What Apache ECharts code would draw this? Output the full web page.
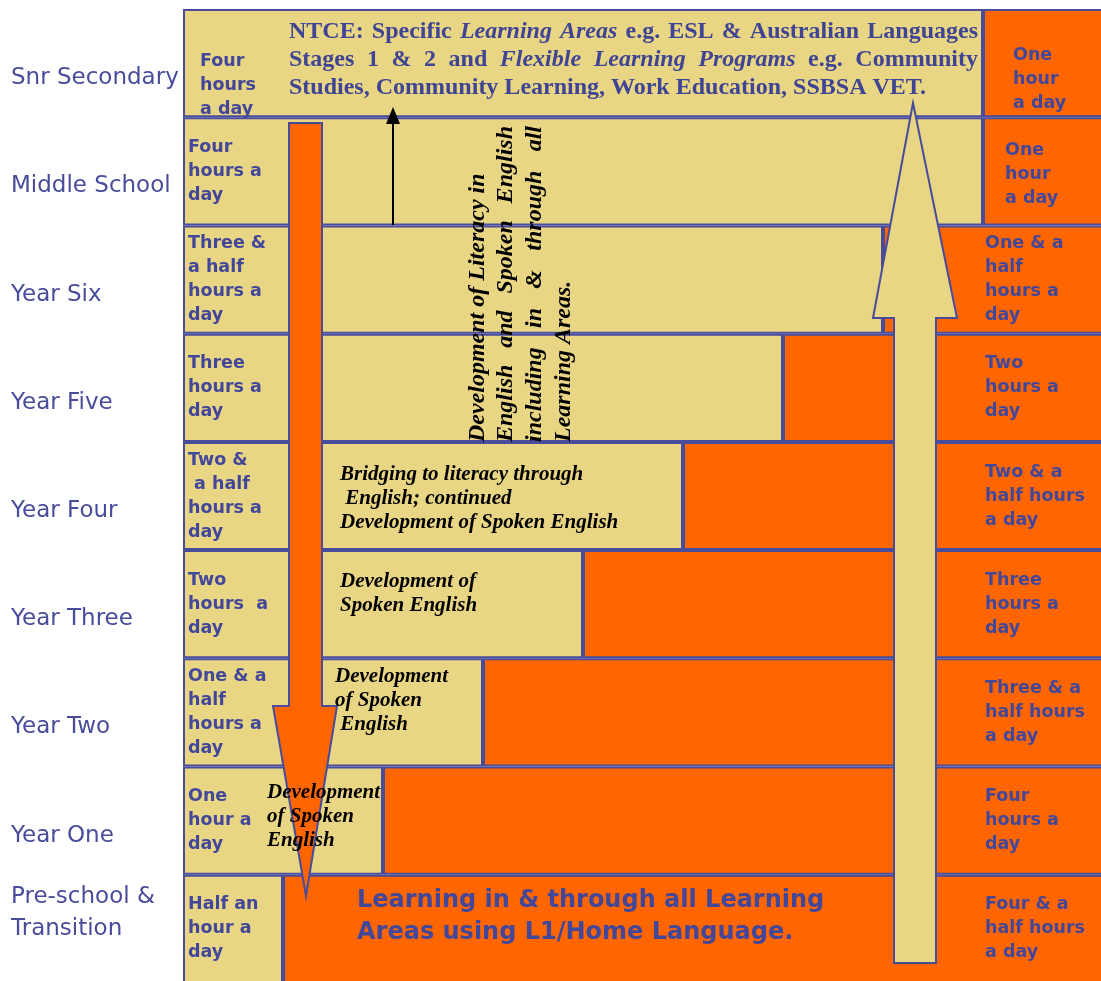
<!DOCTYPE html>
<html>
<head>
<meta charset="utf-8">
<script src="https://cdn.jsdelivr.net/npm/echarts@6/dist/echarts.min.js"></script>
<style>
html,body{margin:0;padding:0;background:#fff;overflow:hidden;width:1101px;height:981px;}
#main{width:1183px;height:983px;}
</style>
</head>
<body>
<div id="main"></div>
<script>
// ---------- data ----------
const categories = ['Snr Secondary','Middle School','Year Six','Year Five','Year Four','Year Three','Year Two','Year One','Pre-school &\nTransition'];
const englishHours = [4, 4, 3.5, 3, 2.5, 2, 1.5, 1, 0.5];
const l1Hours = [1, 1, 1.5, 2, 2.5, 3, 3.5, 4, 4.5];
const englishLabels = ['Four\nhours\na day','Four\nhours a\nday','Three &\na half\nhours a\nday','Three\nhours a\nday','Two &\n a half\nhours a\nday','Two\nhours  a\nday','One & a\nhalf\nhours a\nday','One\nhour a\nday','Half an\nhour a\nday'];
const l1Labels = ['One\nhour\na day','One\nhour\na day','One & a\nhalf\nhours a\nday','Two\nhours a\nday','Two & a\nhalf hours\na day','Three\nhours a\nday','Three & a\nhalf hours\na day','Four\nhours a\nday','Four & a\nhalf hours\na day'];
const ntceLine1 = [['NTCE:',0],['Specific',0],['Learning',1],['Areas',1],['e.g.',0],['ESL',0],['&',0],['Australian',0],['Languages',0]];
const ntceLine2 = [['Stages',0],['1',0],['&',0],['2',0],['and',0],['Flexible',1],['Learning',1],['Programs',1],['e.g.',0],['Community',0]];
const ntceLine3 = 'Studies, Community Learning, Work Education, SSBSA VET.';
const literacyLines = ['Development of Literacy in','English and Spoken English','including in & through all','Learning Areas.'];
const rowNotes = [
  {row: 4, text: 'Bridging to literacy through\n English; continued\nDevelopment of Spoken English'},
  {row: 5, text: 'Development of\nSpoken English'},
  {row: 6, text: 'Development\nof Spoken\n English'},
  {row: 7, text: 'Development\nof Spoken\nEnglish'}
];
const homeLanguageText = 'Learning in & through all Learning\nAreas using L1/Home Language.';

// ---------- style ----------
const TAN = '#E9D684', ORANGE = '#FF6600', BLUE = '#484C9A', TXT = '#43479A';
const GRID_TOP = 9, GRID_LEFT = 183, BAND = (983 - 9) / 9;
const SERIF = '"Liberation Serif"';
function bandCenter(i){ return GRID_TOP + BAND*i + BAND/2; }

const ctx = document.createElement('canvas').getContext('2d');
function measure(t, italic, size){ ctx.font = (italic ? 'italic ' : '') + 'bold ' + size + 'px ' + SERIF; return ctx.measureText(t).width; }

const graphics = [];
// orange downward arrow
graphics.push({type:'polygon', z:10, shape:{points:[[289,123],[322,123],[322,706],[337,706],[306,896],[273,706],[289,706]]}, style:{fill:ORANGE, stroke:BLUE, lineWidth:2}});
// tan upward arrow
graphics.push({type:'polygon', z:10, shape:{points:[[894,963],[894,318],[873,318],[913,103],[957,318],[936,318],[936,963]]}, style:{fill:TAN, stroke:BLUE, lineWidth:2}});
// small black arrow
graphics.push({type:'line', z:10, shape:{x1:393,y1:225,x2:393,y2:120}, style:{stroke:'#000', lineWidth:2}});
graphics.push({type:'polygon', z:10, shape:{points:[[393,107],[386,124],[400,124]]}, style:{fill:'#000'}});

function txt(x, y, text, opt, extra){
  const style = Object.assign({text:text, align:'left', verticalAlign:'middle', textAlign:'left', textVerticalAlign:'middle'}, opt);
  return Object.assign({type:'text', z:20, x:x, y:y, style:style}, extra||{});
}
function serif(italic, size, fill){ return {fontFamily:SERIF, fontWeight:'bold', fontStyle: italic ? 'italic' : 'normal', fontSize:size, fill:fill}; }

// justified horizontal line
function justifyH(words, x0, x1, y, fill){
  const ws = words.map(w => measure(w[0], w[1], 24));
  const sum = ws.reduce((a,b)=>a+b,0);
  const gap = (x1-x0-sum)/(words.length-1);
  let x = x0;
  words.forEach((w,i) => { graphics.push(txt(x, y, w[0], serif(w[1], 24, fill))); x += ws[i] + gap; });
}
const NTCE_C = '#3F4494';
justifyH(ntceLine1, 289, 978, 32, NTCE_C);
justifyH(ntceLine2, 289, 978, 60, NTCE_C);
graphics.push(txt(289, 88, ntceLine3, serif(false, 24, NTCE_C)));

// vertical literacy text (rotated, reading bottom-to-top)
const vx = [478, 506, 535, 564], vBottom = 442, vTop = 126;
literacyLines.forEach((line, k) => {
  const words = line.split(' ');
  if (k === 1 || k === 2) {
    const ws = words.map(w => measure(w, true, 24));
    const sum = ws.reduce((a,b)=>a+b,0);
    const gap = (vBottom - vTop - sum)/(words.length-1);
    let off = 0;
    words.forEach((w,i) => { graphics.push(txt(vx[k], vBottom - off, w, serif(true, 24, '#000'), {rotation: Math.PI/2})); off += ws[i] + gap; });
  } else {
    graphics.push(txt(vx[k], vBottom, line, serif(true, 24, '#000'), {rotation: Math.PI/2}));
  }
});

// row notes
const noteX = {4:340, 5:340, 6:335, 7:267};
const noteDy = {4:3, 5:-11, 6:-12, 7:-4};
rowNotes.forEach(n => {
  const o = serif(true, 21, '#000'); o.lineHeight = 24;
  graphics.push(txt(noteX[n.row], bandCenter(n.row) + noteDy[n.row], n.text, o));
});
// home language text
graphics.push(txt(357, bandCenter(8) - 12, homeLanguageText, {fontFamily:'DejaVu Sans', fontWeight:'bold', fontSize:24, fill:TXT, lineHeight:32}));

const englishData = englishHours.map((v,i) => i === 0 ? {value:v, label:{offset:[12,22]}} : v);
const l1Data = l1Hours.map((v,i) => i === 0 ? {value:v, label:{offset:[-165,16]}} : (i === 1 ? {value:v, label:{offset:[-173,3]}} : v));

const chart = echarts.init(document.getElementById('main'), null, {renderer:'canvas'});
chart.setOption({
  animation: false,
  backgroundColor: '#fff',
  grid: {left: GRID_LEFT, right: 0, top: GRID_TOP, bottom: 0, containLabel: false},
  xAxis: {type:'value', min:0, max:5, show:false},
  yAxis: {
    type:'category', data: categories, inverse: true,
    axisLine:{show:false}, axisTick:{show:false}, splitLine:{show:false},
    axisLabel:{
      margin: 172, align:'left', color: BLUE, fontFamily:'DejaVu Sans', fontSize:23,
      formatter: v => v.indexOf('\n') >= 0
        ? v.split('\n').map(s => '{b|' + s + '}').join('\n') + '\n{b| }'
        : '{a|' + v + '}',
      rich: {
        a: {color: BLUE, fontFamily:'DejaVu Sans', fontSize:23, padding:[30,0,0,0]},
        b: {color: BLUE, fontFamily:'DejaVu Sans', fontSize:23, lineHeight:32}
      }
    }
  },
  series: [
    {
      name:'English', type:'bar', stack:'hours', data: englishData,
      barWidth:'100%', barCategoryGap:'0%', silent:true,
      itemStyle:{color: TAN, borderColor: BLUE, borderWidth: 2},
      label:{show:true, position:'insideLeft', distance:5, align:'left',
        formatter: p => englishLabels[p.dataIndex],
        color: TXT, fontFamily:'DejaVu Sans', fontWeight:'bold', fontSize:17.5, lineHeight:24}
    },
    {
      name:'L1 / Home Language', type:'bar', stack:'hours', data: l1Data,
      barWidth:'100%', silent:true,
      itemStyle:{color: ORANGE, borderColor: BLUE, borderWidth: 2},
      label:{show:true, position:'insideRight', distance:5, align:'left', offset:[-193,0],
        formatter: p => l1Labels[p.dataIndex],
        color: TXT, fontFamily:'DejaVu Sans', fontWeight:'bold', fontSize:17.5, lineHeight:24}
    }
  ],
  graphic: graphics
});
</script>
</body>
</html>
